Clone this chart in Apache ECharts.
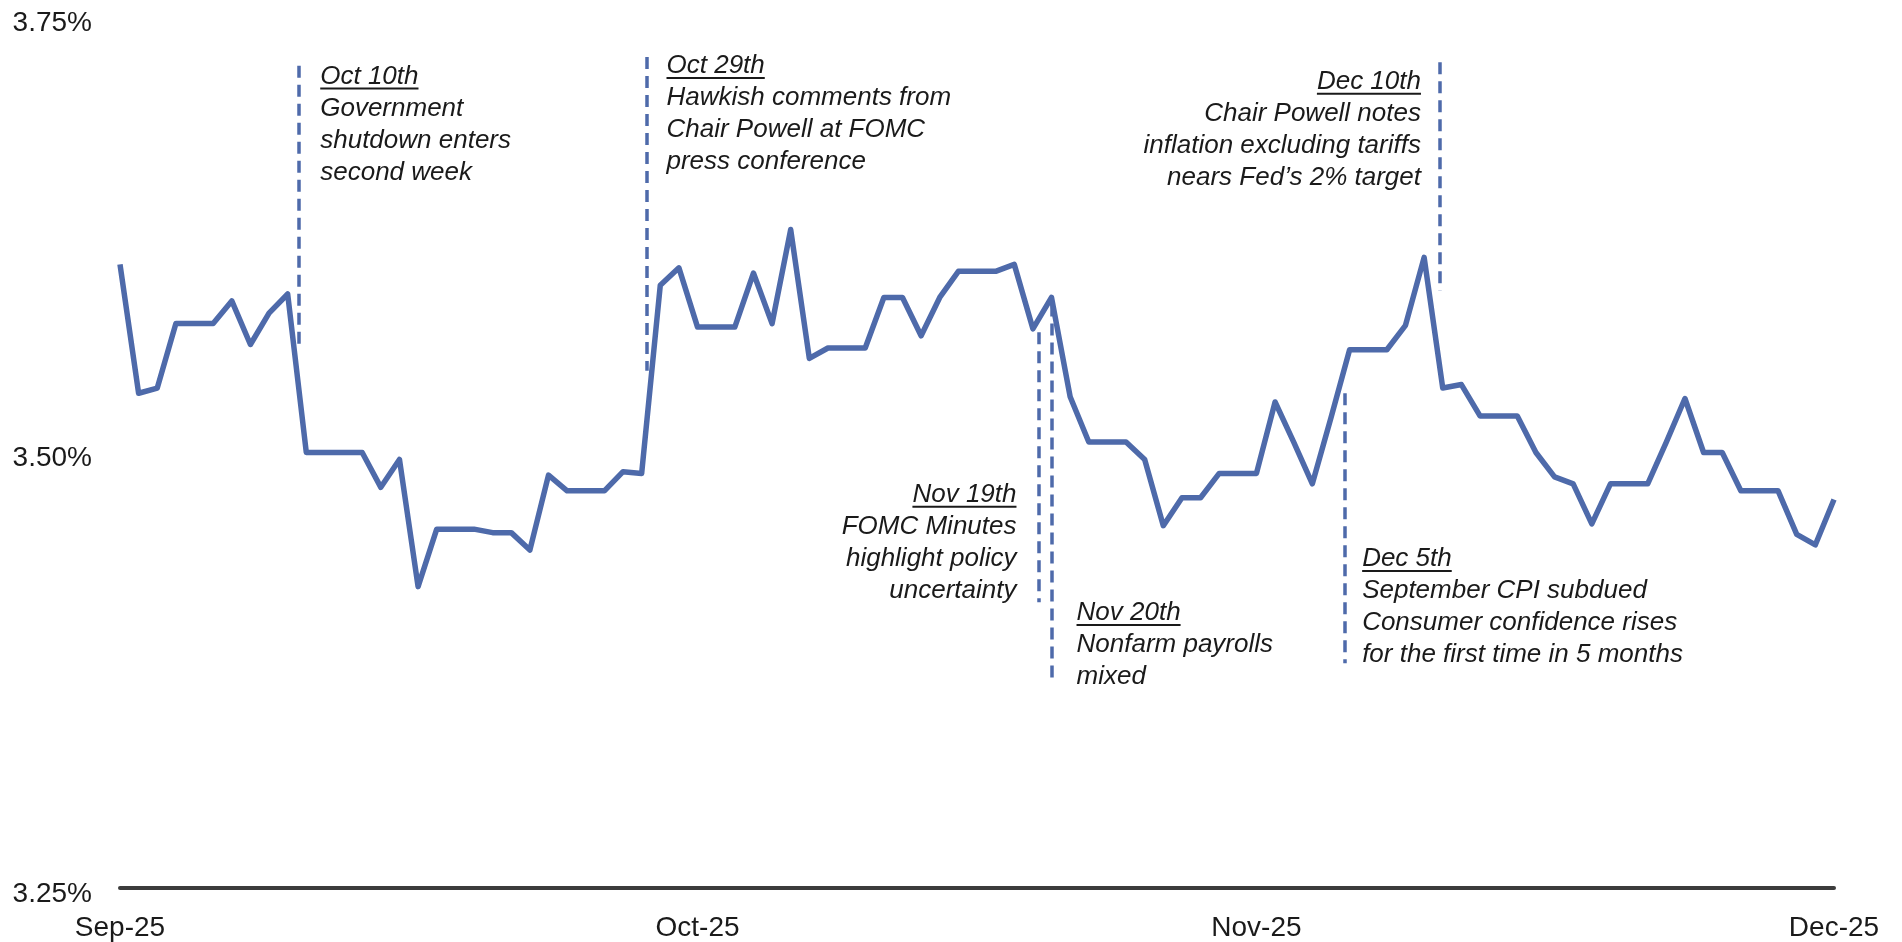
<!DOCTYPE html>
<html>
<head>
<meta charset="utf-8">
<script src="https://cdn.jsdelivr.net/npm/echarts@6/dist/echarts.min.js"></script>
<style>
    html, body { margin: 0; padding: 0; background: #fff; }
    #chart { width: 1902px; height: 942px; }
</style>
</head>
<body>
<div id="chart"></div>
<script>
// daily yield (%)
var yields = [
    3.608, 3.534, 3.537, 3.574, 3.574, 3.574, 3.587, 3.562, 3.580, 3.591,
    3.500, 3.500, 3.500, 3.500, 3.480, 3.496, 3.423, 3.456, 3.456, 3.456,
    3.454, 3.454, 3.444, 3.487, 3.478, 3.478, 3.478, 3.489, 3.488, 3.596,
    3.606, 3.572, 3.572, 3.572, 3.603, 3.574, 3.628, 3.554, 3.560, 3.560,
    3.560, 3.589, 3.589, 3.567, 3.589, 3.604, 3.604, 3.604, 3.608, 3.571,
    3.589, 3.532, 3.506, 3.506, 3.506, 3.496, 3.458, 3.474, 3.474, 3.488,
    3.488, 3.488, 3.529, 3.506, 3.482, 3.520, 3.559, 3.559, 3.559, 3.573,
    3.612, 3.537, 3.539, 3.521, 3.521, 3.521, 3.500, 3.486, 3.482, 3.459,
    3.482, 3.482, 3.482, 3.506, 3.531, 3.500, 3.500, 3.478, 3.478, 3.478,
    3.453, 3.447, 3.473
]
var monthTicks = [0, 31, 61, 92]
var monthLabels = ['Sep-25', 'Oct-25', 'Nov-25', 'Dec-25']
var yTicks = { min: 3.25, max: 3.75, step: 0.25 }

// event markers: position on the day axis, dashed line extent, text block
var eventX = [9.62, 28.26, 49.3, 50, 65.76, 70.85]
var eventLineTop = [3.722, 3.727, 3.569, 3.585, 3.534, 3.724]
var eventLineBottom = [3.560, 3.547, 3.414, 3.367, 3.379, 3.593]
var eventTextTop = [3.725, 3.731, 3.485, 3.417, 3.448, 3.722]
var eventTitles = ['Oct 10th', 'Oct 29th', 'Nov 19th', 'Nov 20th', 'Dec 5th', 'Dec 10th']
var eventTexts = [
    ['Government', 'shutdown enters', 'second week'],
    ['Hawkish comments from', 'Chair Powell at FOMC', 'press conference'],
    ['FOMC Minutes', 'highlight policy', 'uncertainty'],
    ['Nonfarm payrolls', 'mixed'],
    ['September CPI subdued', 'Consumer confidence rises', 'for the first time in 5 months'],
    ['Chair Powell notes', 'inflation excluding tariffs', 'nears Fed\u2019s 2% target']
]
var eventAlign = ['left', 'left', 'right', 'left', 'left', 'right']
var eventGap = [21, 20, -22, 25, 17, -19]

var lineColor = '#4e6aaa'
var textColor = '#1a1a1a'
var noteFont = 'italic 26px "Liberation Sans", Arial, sans-serif'

var chart = echarts.init(document.getElementById('chart'))

var option = {
    animation: false,
    grid: {
        left: 120,
        right: 68,
        top: 17,
        bottom: 54,
        outerBoundsMode: 'none'
    },
    xAxis: {
        type: 'value',
        min: 0,
        max: yields.length - 1,
        axisLine: {
            lineStyle: {
                color: '#3c3c3c',
                width: 4
            }
        },
        axisTick: {
            show: false
        },
        splitLine: {
            show: false
        },
        axisLabel: {
            customValues: monthTicks,
            formatter: function (v) {
                return monthLabels[monthTicks.indexOf(v)]
            },
            color: textColor,
            fontSize: 28,
            fontFamily: '"Liberation Sans", Arial, sans-serif',
            margin: 26
        }
    },
    yAxis: {
        type: 'value',
        min: yTicks.min,
        max: yTicks.max,
        interval: yTicks.step,
        axisLine: {
            show: false
        },
        axisTick: {
            show: false
        },
        splitLine: {
            show: false
        },
        axisLabel: {
            formatter: function (v) {
                return v.toFixed(2) + '%'
            },
            color: textColor,
            fontSize: 28,
            fontFamily: '"Liberation Sans", Arial, sans-serif',
            verticalAlign: 'top',
            lineHeight: 12,
            margin: 28
        }
    },
    series: [{
        type: 'line',
        symbol: 'none',
        data: yields.map(function (v, i) { return [i, v] }),
        lineStyle: {
            color: lineColor,
            width: 5.5,
            join: 'round'
        },
        markLine: {
            silent: true,
            symbol: ['none', 'none'],
            label: {
                show: false
            },
            lineStyle: {
                color: lineColor,
                type: [12, 7],
                width: 3.5
            },
            data: eventX.map(function (x, i) {
                return [{ coord: [x, eventLineTop[i]] }, { coord: [x, eventLineBottom[i]] }]
            })
        }
    }]
}
chart.setOption(option)

// annotation text, anchored to the axes
var ctx = document.createElement('canvas').getContext('2d')
ctx.font = noteFont
var graphics = []
eventX.forEach(function (x, i) {
    var p = chart.convertToPixel({ gridIndex: 0 }, [x, eventTextTop[i]])
    var tx = p[0] + eventGap[i]
    var ty = p[1]
    graphics.push({
        type: 'text',
        x: tx,
        y: ty,
        silent: true,
        style: {
            text: [eventTitles[i]].concat(eventTexts[i]).join('\n'),
            font: noteFont,
            fill: textColor,
            align: eventAlign[i],
            verticalAlign: 'top',
            lineHeight: 32
        }
    })
    var w = ctx.measureText(eventTitles[i]).width
    var ux = eventAlign[i] == 'left' ? tx : tx - w
    graphics.push({
        type: 'line',
        silent: true,
        shape: { x1: ux, y1: ty + 28, x2: ux + w, y2: ty + 28 },
        style: { stroke: textColor, lineWidth: 2 }
    })
})
chart.setOption({ graphic: graphics })
</script>
</body>
</html>
